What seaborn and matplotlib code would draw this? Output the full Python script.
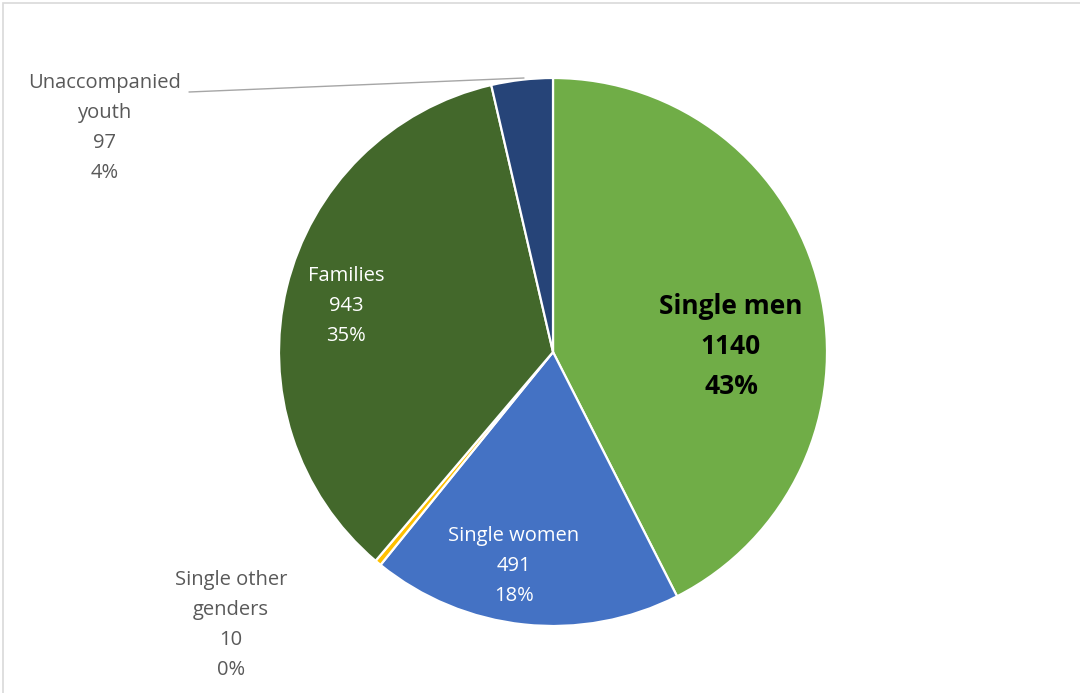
import matplotlib.pyplot as plt
import seaborn as sns
from matplotlib.patches import Rectangle

# Data
categories = ['Single men', 'Single women', 'Single other\ngenders', 'Families', 'Unaccompanied\nyouth']
counts = [1140, 491, 10, 943, 97]
colors = ['#70AD47', '#4472C4', '#FFC000', '#43682B', '#264478']

sns.set_theme(style='white')
plt.rcParams['font.family'] = ['Open Sans', 'DejaVu Sans']

W, H = 1080, 693
fig = plt.figure(figsize=(W / 100, H / 100), dpi=100)
ax = fig.add_axes([0, 0, 1, 1])

# pie placed in pixel space (y measured from top)
cx, cy, r = 553, 352, 274
ax.pie(counts, colors=colors, startangle=90, counterclock=False,
       center=(cx, H - cy), radius=r, frame=True,
       wedgeprops=dict(edgecolor='white', linewidth=1.6))
ax.set_xlim(0, W)
ax.set_ylim(0, H)
ax.set_aspect('equal')
ax.axis('off')

total = sum(counts)
pcts = [round(c / total * 100) for c in counts]

# label layout: (x, y of first line, line gap, colour, size, weight)
layout = [
    (731, 306, 40, 'black', 19, 'bold'),
    (514, 536, 30, 'white', 14.5, 'normal'),
    (231, 580, 30, '#595959', 14.5, 'normal'),
    (346, 276, 30, 'white', 14.5, 'normal'),
    (105, 83, 30, '#595959', 14.5, 'normal'),
]
for name, c, p, (x, y, gap, col, fs, fw) in zip(categories, counts, pcts, layout):
    lines = name.split('\n') + [str(c), f'{p}%']
    for i, line in enumerate(lines):
        ax.text(x, H - (y + i * gap), line, ha='center', va='center',
                color=col, fontsize=fs, fontweight=fw)

# leader line for the small youth slice
ax.plot([189, 524], [H - 92, H - 78], color='#A6A6A6', linewidth=1.0)

# chart area border
fig.patches.append(Rectangle((3 / W, -0.1), 1.2, (H - 3) / H + 0.1,
                             transform=fig.transFigure, fill=False,
                             edgecolor='#D9D9D9', linewidth=1.2))

fig.savefig('out.png', dpi=100)
